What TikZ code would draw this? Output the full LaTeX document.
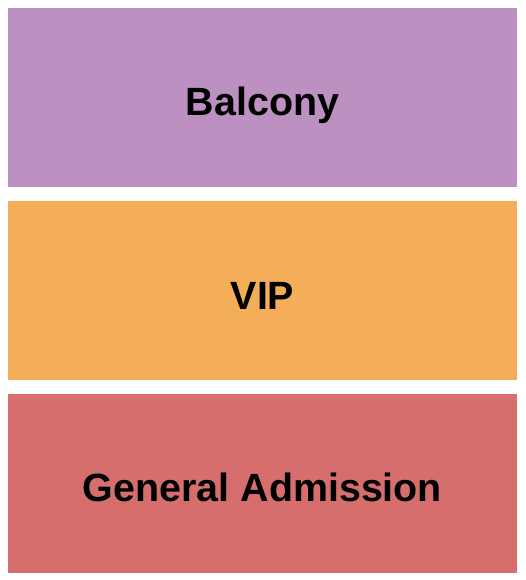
\documentclass[tikz,border=0pt]{standalone}
\usepackage{fontspec}
\setmainfont{Liberation Sans}
\usetikzlibrary{positioning}

\definecolor{balconycolor}{RGB}{189,144,194}
\definecolor{vipcolor}{RGB}{244,174,89}
\definecolor{gacolor}{RGB}{215,110,110}

\begin{document}
\begin{tikzpicture}[x=1pt,y=1pt,
    section/.style={rectangle,minimum width=509pt,minimum height=179pt,
      inner sep=0pt,text height=37pt,text depth=0pt,
      font=\fontsize{39.4}{44}\selectfont\bfseries,text=black}]
  \useasboundingbox (0,0) rectangle (525,-580);

  % Balcony
  \node[section,fill=balconycolor] (balcony) at (262.5,-97.5) {Balcony};

  % VIP
  \node[section,fill=vipcolor,below=14pt of balcony] (vip) {VIP};

  % General Admission
  \node[section,fill=gacolor,below=13pt of vip] (ga) {General Admission};

\end{tikzpicture}
\end{document}
